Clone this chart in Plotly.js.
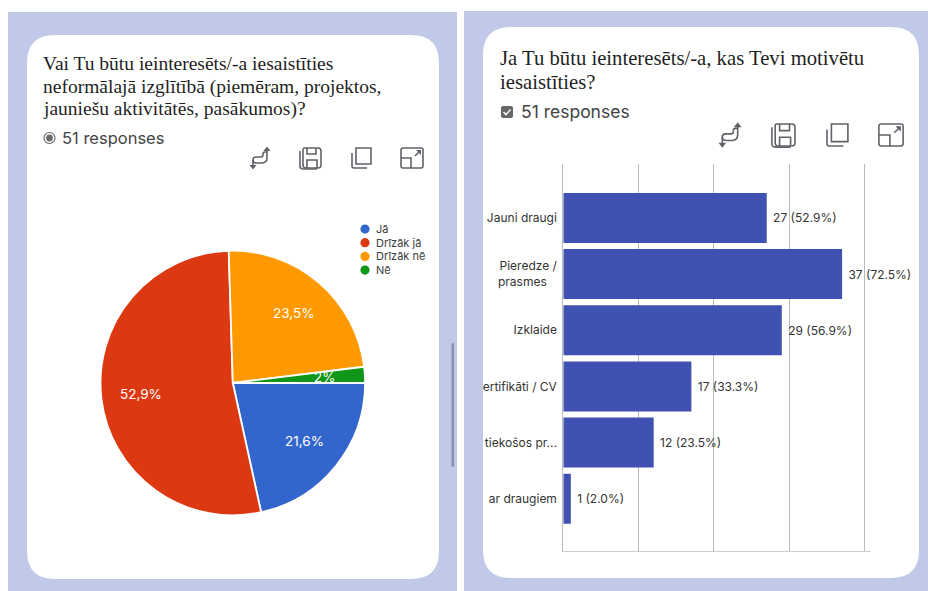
<!DOCTYPE html>
<html><head><meta charset="utf-8">
<script src="https://cdn.plot.ly/plotly-3.0.1.min.js"></script>
<style>html,body{margin:0;padding:0;background:#fff}#c{width:928px;height:591px}</style>
</head><body><div id="c"></div>
<script>
const pieLabels = ['Jā','Drīzāk jā','Drīzāk nē','Nē'];
const pieValues = [11,27,12,1];
const pieText = ['21,6%','52,9%','23,5%','2%'];
const pieColors = ['#3366cc','#dc3912','#ff9900','#109618'];
const barCategories = ['Jauni draugi','Pieredze /<br>prasmes\u00a0\u00a0\u00a0','Izklaide','ertifikāti / CV','tiekošos pr...','ar draugiem'];
const barValues = [27,37,29,17,12,1];
const barText = ['27 (52.9%)','37 (72.5%)','29 (56.9%)','17 (33.3%)','12 (23.5%)','1 (2.0%)'];
const leftTitle = ['Vai Tu būtu ieinteresēts/-a iesaistīties','neformālajā izglītībā (piemēram, projektos,','jauniešu aktivitātēs, pasākumos)?'];
const rightTitle = ['Ja Tu būtu ieinteresēts/-a, kas Tevi motivētu','iesaistīties?'];
const responses = '51 responses';

const W=928,H=591;
const X=x=>x/W, Y=y=>1-y/H;
const conv=s=>s.replace(/(-?[\d.]+) (-?[\d.]+)/g,(m,a,b)=>X(+a).toFixed(6)+' '+Y(+b).toFixed(6));
const shape=(path,o={})=>Object.assign({type:'path',xref:'paper',yref:'paper',path:conv(path),layer:'below',line:{width:0}},o);
const rr=(x0,y0,x1,y1,r)=>`M${x0+r} ${y0} L${x1-r} ${y0} Q${x1} ${y0} ${x1} ${y0+r} L${x1} ${y1-r} Q${x1} ${y1} ${x1-r} ${y1} L${x0+r} ${y1} Q${x0} ${y1} ${x0} ${y1-r} L${x0} ${y0+r} Q${x0} ${y0} ${x0+r} ${y0} Z`;
const PANEL='#c1c9e9', ICON='#5f6368';
let shapes=[
 shape(rr(8,12,457,591,0.01),{fillcolor:PANEL}),
 shape(rr(464,11,928,591,0.01),{fillcolor:PANEL}),
 shape(rr(27,35,439,579,28),{fillcolor:'#fff'}),
 shape(rr(483,27,919,578,28),{fillcolor:'#fff'}),
 shape(rr(451.5,343,454,467,1),{fillcolor:'#8b90b3'})
];
function rel(d,cx,cy,s){return d.replace(/(-?[\d.]+) (-?[\d.]+)/g,(m,a,b)=>(cx+a*s)+' '+(cy+b*s));}
const ln=(d,w)=>shape(d,{line:{color:ICON,width:w||1.6},layer:'above'});
const fl=d=>shape(d,{fillcolor:ICON,layer:'above'});
function icons(xs,cy,s){
 const a=(d,i)=>ln(rel(d,xs[i],cy,s));
 shapes.push(
  a('M-7 8 L-7 2 Q-7 -1 -4 -1 L1 -1 Q3 -1 3 -3 L3 -4',0),
  a('M-3 5 L1 5 Q7 5 7 0 L7 -8',0),
  a('M-7 2 Q-7 5 -3 5',0),
  a('M3 -4 Q3 -6 5 -6 L7 -6',0),
  fl(rel('M-10.5 7 L-3.5 7 L-7 11.5 Z',xs[0],cy,s)),
  fl(rel('M3.5 -7 L10.5 -7 L7 -11.5 Z',xs[0],cy,s)),
  ln(rel('M-7 -10 L7 -10 Q10 -10 10 -7 L10 7 Q10 10 7 10 L-5 10 Q-8 10 -8 7 L-8 -8 Q-8 -10 -7 -10 Z',xs[1],cy,s)),
  ln(rel('M-11 -7 L-11 8 Q-11 11 -8 11 L6 11',xs[1],cy,s)),
  ln(rel('M-4 -10 L-4 -4 L5 -4 L5 -10',xs[1],cy,s)),
  ln(rel('M-4 10 L-4 2 L6 2 L6 10',xs[1],cy,s)),
  ln(rel('M-6 -10 L9 -10 L9 6 L-6 6 Z',xs[2],cy,s)),
  ln(rel('M-10 -5 L-10 8 Q-10 10 -8 10 L5 10',xs[2],cy,s)),
  ln(rel('M-9 -10 L9 -10 Q11 -10 11 -8 L11 8 Q11 10 9 10 L-9 10 Q-11 10 -11 8 L-11 -8 Q-11 -10 -9 -10 Z',xs[3],cy,s)),
  ln(rel('M-11 0 L-1 0 L-1 10',xs[3],cy,s)),
  ln(rel('M3 -2 L8 -7',xs[3],cy,s)),
  fl(rel('M4 -8 L9 -8 L9 -3 Z',xs[3],cy,s))
 );
}
icons([260,311,362,412],158,1);
icons([730,784,838,891],135,1.1);
// radio + checkbox
const circ=(cx,cy,r,o)=>Object.assign({type:'circle',xref:'paper',yref:'paper',x0:X(cx-r),x1:X(cx+r),y0:Y(cy+r),y1:Y(cy-r),layer:'above',line:{width:0}},o);
shapes.push(circ(49.5,138,5.5,{line:{color:'#6b6b6b',width:1.2}}),circ(49.5,138,3.4,{fillcolor:'#6b6b6b'}));
shapes.push(shape(rr(501,106,513,118,2),{fillcolor:'#666',layer:'above'}));
shapes.push(shape('M503.5 112 L506 114.6 L510.5 109.5',{line:{color:'#fff',width:1.4},layer:'above'}));

const txt=(t,x,y,size,fam,col,o={})=>Object.assign({text:t,xref:'paper',yref:'paper',x:X(x),y:Y(y),xanchor:'left',yanchor:'middle',showarrow:false,font:{size:size,family:fam,color:col}},o);
const SERIF='"Liberation Serif",serif', SANS='Inter,Roboto,sans-serif';
let ann=[];
leftTitle.forEach((t,i)=>ann.push(txt(t,41,64+i*22.7,19.5,SERIF,'#1f1f1f')));
rightTitle.forEach((t,i)=>ann.push(txt(t,498,58+i*24,20.7,SERIF,'#1f1f1f')));
ann.push(txt(responses,60,138,16.5,SANS,'#444'));
ann.push(txt(responses,519,112,17.5,SANS,'#444'));
// legend
pieLabels.forEach((l,i)=>{
 const y=229+i*13.7;
 shapes.push(circ(365,y,4.6,{fillcolor:pieColors[i]}));
 ann.push(txt(l,373.5,y,11,SANS,'#3c3c3c'));
});
// pie labels derived from values
const cx=232.8,cy=383,R=132.3,total=pieValues.reduce((a,b)=>a+b,0);
let acc=0;
pieValues.forEach((v,i)=>{
 const mid=(acc+v/2)/total*2*Math.PI; acc+=v;
 ann.push(txt(pieText[i],cx+0.7*R*Math.cos(mid),cy+0.7*R*Math.sin(mid),13.5,SANS,'#fff',{xanchor:'center'}));
});

const data=[
 {type:'pie',labels:pieLabels,values:pieValues,sort:false,direction:'clockwise',rotation:90,
  textinfo:'none',hoverinfo:'label+percent',showlegend:false,
  marker:{colors:pieColors,line:{color:'#fff',width:1.8}},
  domain:{x:[X(cx-R),X(cx+R)],y:[Y(cy+R),Y(cy-R)]}},
 {type:'bar',orientation:'h',x:barValues,y:barCategories,text:barText,texttemplate:'\u00a0%{text}',textposition:'outside',cliponaxis:false,
  textfont:{family:SANS,size:12,color:'#333'},marker:{color:'#3f51b1'},xaxis:'x',yaxis:'y',showlegend:false}
];
const layout={
 width:W,height:H,margin:{l:0,r:0,t:0,b:0},paper_bgcolor:'#fff',plot_bgcolor:'rgba(0,0,0,0)',
 showlegend:false,bargap:0.11,shapes:shapes,annotations:ann,
 xaxis:{domain:[X(563.3),X(870.7)],range:[0,40.8],tickvals:[0,10,20,30,40],showticklabels:false,ticks:'',
  gridcolor:'#b9b9b9',gridwidth:1,zeroline:false,showline:true,linecolor:'#cfcfcf',anchor:'y'},
 yaxis:{domain:[Y(551),Y(164)],type:'category',categoryorder:'array',categoryarray:barCategories,range:[5.93,-0.96],
  tickfont:{family:SANS,size:12,color:'#333'},ticks:'',showgrid:false,zeroline:false,showline:true,linecolor:'#b9b9b9',anchor:'x',ticklabelstandoff:3}
};
Plotly.newPlot('c',data,layout,{displayModeBar:false,staticPlot:true});
</script></body></html>
